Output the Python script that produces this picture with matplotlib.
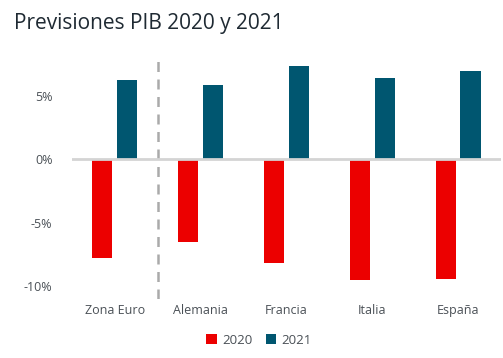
import matplotlib
matplotlib.use("Agg")
import matplotlib.pyplot as plt
import numpy as np

categories = ["Zona Euro", "Alemania", "Francia", "Italia", "España"]
series_names = ["2020", "2021"]
values_2020 = [-7.8, -6.5, -8.2, -9.5, -9.4]
values_2021 = [6.3, 5.9, 7.4, 6.4, 7.0]
yticks = [-10, -5, 0, 5]
ytick_labels = ["-10%", "-5%", "0%", "5%"]

red = "#EC0000"
blue = "#005670"

plt.rcParams['font.family'] = ['Open Sans', 'DejaVu Sans']

fig = plt.figure(figsize=(5.03, 3.58), dpi=100)
ax = fig.add_axes([0.143, 0.165, 0.853, 0.673])

x = np.arange(len(categories))
w = 0.235
off = 0.145
ax.bar(x - off, values_2020, width=w, color=red, label=series_names[0], zorder=2)
ax.bar(x + off, values_2021, width=w, color=blue, label=series_names[1], zorder=2)

ax.axhline(0, color="#d4d4d4", lw=2, zorder=3)
ax.axvline(0.5, color="#aaaaaa", lw=1.8, ls=(0, (4, 3)), zorder=1)

ax.set_xlim(-0.5, 4.5)
ax.set_ylim(-11, 8)
ax.set_yticks(yticks)
ax.set_yticklabels(ytick_labels)
ax.set_xticks(x)
ax.set_xticklabels(categories)
for s in ax.spines.values():
    s.set_visible(False)
ax.tick_params(axis='both', length=0, labelsize=9, colors="#4a5056")
ax.tick_params(axis='y', pad=14)
ax.tick_params(axis='x', pad=4)

fig.text(0.028, 0.935, "Previsiones PIB 2020 y 2021", fontsize=15, color="#1f2a33", va="center", ha="left")

leg = fig.legend(loc="center", bbox_to_anchor=(0.515, 0.05), ncol=2, frameon=False,
                 fontsize=9.5, handlelength=0.8, handleheight=0.8, handletextpad=0.4,
                 columnspacing=1.0, labelcolor="#4a5056")

fig.savefig("out.png", dpi=100)
